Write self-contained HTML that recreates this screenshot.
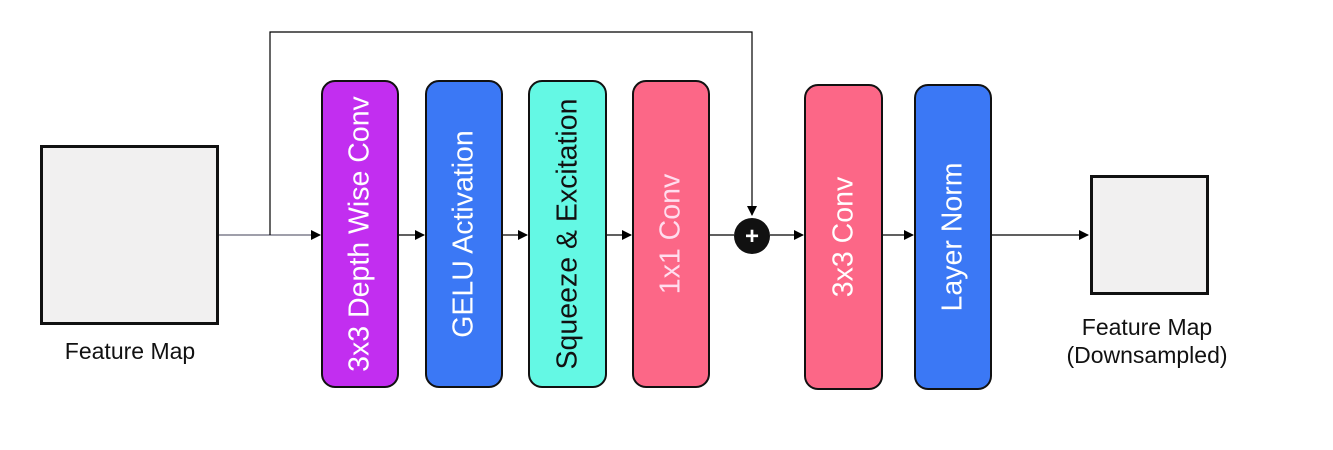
<!DOCTYPE html>
<html><head><style>
body{margin:0;width:1333px;height:450px;background:#fff;position:relative;font-family:"Liberation Sans",sans-serif;overflow:hidden}
.b{position:absolute;border:2px solid #111;border-radius:14px;box-sizing:border-box}
.t{position:absolute;left:50%;top:50%;transform:translate(-50%,-50%) rotate(-90deg);white-space:nowrap;font-size:28.5px}
.lbl{position:absolute;font-size:23px;color:#111;text-align:center}
</style></head><body>
<svg width="1333" height="450" style="position:absolute;left:0;top:0">
<defs><marker id="a" markerWidth="10" markerHeight="10" refX="9" refY="5" orient="auto" markerUnits="userSpaceOnUse"><path d="M0,0L10,5L0,10z" fill="#000"/></marker></defs>
<g stroke="#000" stroke-width="1.2" fill="none">
<line x1="218" y1="235" x2="320" y2="235" marker-end="url(#a)" stroke="#667"/>
<polyline points="270,235 270,32 752,32 752,215" marker-end="url(#a)"/>
<line x1="398" y1="235" x2="424" y2="235" marker-end="url(#a)"/>
<line x1="502" y1="235" x2="527" y2="235" marker-end="url(#a)"/>
<line x1="606" y1="235" x2="631" y2="235" marker-end="url(#a)"/>
<line x1="709" y1="235" x2="734" y2="235"/>
<line x1="770" y1="235" x2="803" y2="235" marker-end="url(#a)"/>
<line x1="882" y1="235" x2="913" y2="235" marker-end="url(#a)"/>
<line x1="991" y1="235" x2="1088" y2="235" marker-end="url(#a)"/>
</g>
<circle cx="752" cy="236" r="18" fill="#111"/>
<text x="752" y="244" font-size="24" fill="#fff" text-anchor="middle" font-family="Liberation Sans" font-weight="bold">+</text>
</svg>
<div style="position:absolute;left:40px;top:145px;width:179px;height:180px;border:3px solid #111;box-sizing:border-box;background:#f1f0f0"></div>
<div style="position:absolute;left:1090px;top:175px;width:119px;height:120px;border:3px solid #111;box-sizing:border-box;background:#f1f0f0"></div>
<div class="lbl" style="left:30px;top:338px;width:200px">Feature Map</div>
<div class="lbl" style="left:1047px;top:313px;width:200px;line-height:28px">Feature Map<br>(Downsampled)</div>
<div class="b" style="left:321px;top:80px;width:78px;height:308px;background:#c22ef0"><span class="t" style="color:#fff">3x3 Depth Wise Conv</span></div>
<div class="b" style="left:425px;top:80px;width:78px;height:308px;background:#3b78f5"><span class="t" style="color:#fff">GELU Activation</span></div>
<div class="b" style="left:528px;top:80px;width:79px;height:308px;background:#64f8e4"><span class="t" style="color:#111">Squeeze &amp; Excitation</span></div>
<div class="b" style="left:632px;top:80px;width:78px;height:308px;background:#fc6787"><span class="t" style="color:#fde">1x1 Conv</span></div>
<div class="b" style="left:804px;top:84px;width:79px;height:306px;background:#fc6787"><span class="t" style="color:#fff">3x3 Conv</span></div>
<div class="b" style="left:914px;top:84px;width:78px;height:306px;background:#3b78f5"><span class="t" style="color:#fff">Layer Norm</span></div>
</body></html>
